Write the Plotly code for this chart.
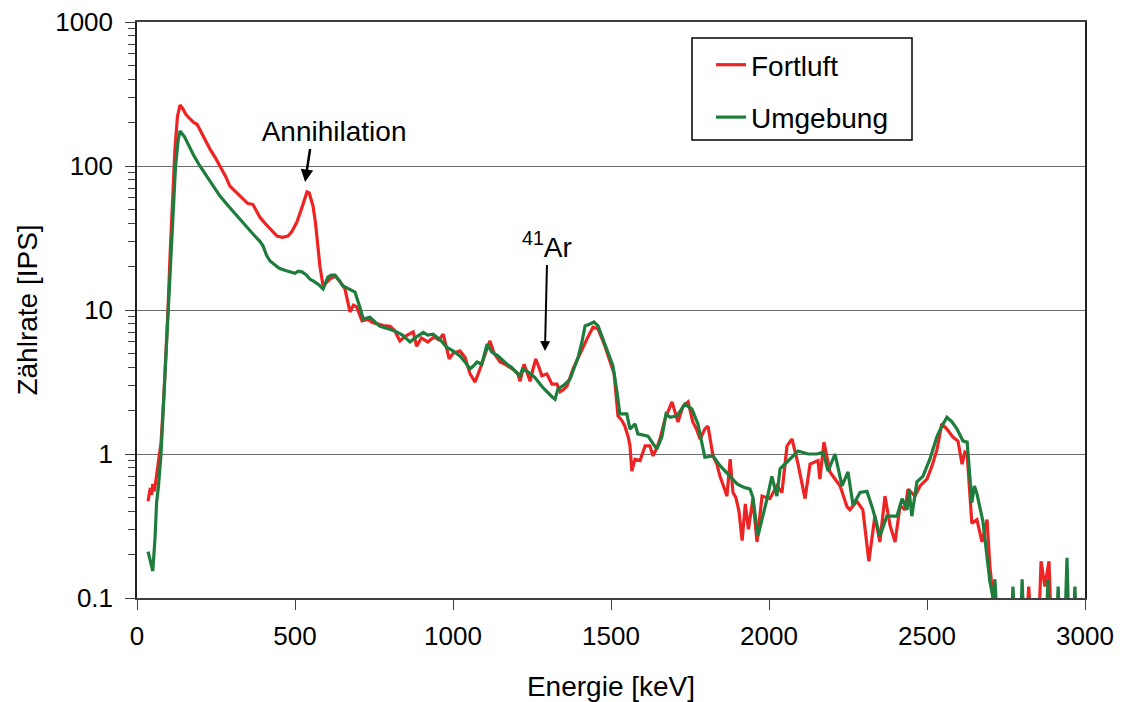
import plotly.graph_objects as go

# ---------------- data ----------------
fort_E = [35, 42, 46, 50, 55, 62, 70, 76, 85, 92, 98, 105, 112, 120, 128, 136, 145, 155, 168, 180,
          190, 210, 231, 250, 263, 280, 294, 315, 335, 350, 367, 380, 389, 405, 421, 435, 443, 460, 478, 490,
          506, 520, 538, 545, 557, 565, 573, 579, 589, 600, 612, 627, 640, 658, 665, 674, 685, 695, 712, 730,
          745, 759, 780, 801, 815, 832, 850, 874, 885, 900, 920, 940, 955, 969, 988, 1000, 1022, 1038, 1054, 1070,
          1080, 1091, 1105, 1117, 1130, 1149, 1165, 1180, 1195, 1205, 1212, 1225, 1235, 1244, 1252, 1262, 1272, 1281, 1297, 1305,
          1313, 1329, 1339, 1350, 1361, 1380, 1395, 1408, 1424, 1443, 1459, 1481, 1497, 1510, 1522, 1535, 1544, 1555, 1560, 1566,
          1576, 1592, 1608, 1623, 1633, 1645, 1655, 1671, 1693, 1712, 1728, 1744, 1759, 1770, 1782, 1797, 1807, 1815, 1823, 1835,
          1845, 1856, 1867, 1877, 1886, 1895, 1905, 1915, 1925, 1935, 1949, 1962, 1978, 2003, 2025, 2041, 2057, 2073, 2092, 2114,
          2130, 2155, 2161, 2174, 2193, 2209, 2225, 2247, 2256, 2278, 2297, 2316, 2335, 2351, 2367, 2383, 2399, 2415, 2430, 2440,
          2462, 2478, 2500, 2516, 2532, 2547, 2563, 2582, 2598, 2611, 2620, 2627, 2635, 2642, 2658, 2674, 2690, 2699, 2709, 2720,
          2812, 2822, 2832, 2852, 2861, 2873, 2886, 2895, 3000]
fort_V = [0.47, 0.58, 0.52, 0.62, 0.55, 0.7, 0.9, 1.2, 2.5, 5, 10, 25, 60, 130, 220, 265, 250, 228, 212, 200,
          195, 160, 131, 112, 100, 85, 72.6, 65, 59, 55, 54, 48, 44, 40, 36.5, 34, 32.6, 32, 32.6, 35,
          40.8, 50, 66, 65, 52.8, 40, 26.5, 20, 14.7, 15.5, 16.5, 17.2, 16, 14, 12, 9.7, 10.8, 10.5, 8.4, 8.6,
          8.2, 8, 7.8, 7.7, 7.2, 6.1, 6.6, 7.05, 5.6, 6.4, 6.0, 6.5, 6.2, 6.8, 4.57, 5.0, 5.2, 4.7, 3.6, 3.16,
          3.6, 4.2, 5.2, 6.1, 5.0, 4.35, 4.2, 4.0, 3.8, 3.6, 3.2, 4.2, 3.6, 3.2, 3.8, 4.57, 4.0, 3.5, 3.6, 3.3,
          3.06, 3.06, 2.7, 2.8, 2.97, 3.9, 4.6, 5.4, 6.3, 7.6, 7.4, 5.6, 4.35, 3.6, 1.84, 1.7, 1.56, 1.3, 1.14, 0.76,
          0.92, 0.90, 1.14, 1.14, 0.97, 1.1, 1.27, 1.75, 2.3, 1.67, 2.15, 2.3, 1.67, 1.5, 1.27, 1.49, 1.56, 1.2, 0.97, 0.85,
          0.70, 0.6, 0.51, 0.92, 0.54, 0.5, 0.4, 0.25, 0.45, 0.3, 0.49, 0.245, 0.51, 0.49, 0.60, 0.54, 1.14, 1.27, 0.85, 0.49,
          0.85, 0.90, 0.67, 1.21, 0.75, 0.67, 0.60, 0.43, 0.41, 0.47, 0.41, 0.18, 0.37, 0.245, 0.51, 0.32, 0.245, 0.44, 0.41, 0.57,
          0.51, 0.60, 0.67, 0.83, 1.08, 1.62, 1.49, 1.31, 1.23, 0.85, 1.03, 1.0, 0.6, 0.33, 0.35, 0.245, 0.35, 0.167, 0.1, 0.05,
          0.05, 0.12, 0.05, 0.05, 0.18, 0.12, 0.18, 0.05, 0.05]

umg_E = [35, 42, 50, 57, 62, 68, 76, 85, 92, 101, 108, 115, 122, 130, 136, 150, 161, 180, 199, 220,
         241, 262, 285, 305, 326, 345, 367, 389, 399, 410, 421, 431, 450, 470, 484, 500, 510, 522, 535, 547,
         560, 575, 589, 597, 604, 615, 627, 640, 652, 670, 690, 705, 716, 737, 755, 769, 795, 822, 840, 864,
         880, 906, 920, 937, 960, 981, 1000, 1022, 1040, 1054, 1065, 1076, 1091, 1108, 1123, 1142, 1171, 1185, 1196, 1212,
         1220, 1234, 1259, 1284, 1313, 1323, 1332, 1350, 1370, 1396, 1408, 1418, 1433, 1446, 1459, 1487, 1506, 1519, 1528, 1550,
         1560, 1576, 1585, 1617, 1645, 1661, 1674, 1687, 1709, 1734, 1756, 1775, 1797, 1823, 1845, 1877, 1899, 1918, 1940, 1949,
         1965, 1994, 2009, 2025, 2035, 2057, 2092, 2124, 2152, 2171, 2187, 2209, 2231, 2250, 2266, 2288, 2310, 2329, 2351, 2373,
         2405, 2421, 2437, 2443, 2452, 2468, 2487, 2509, 2532, 2547, 2563, 2579, 2595, 2614, 2627, 2642, 2650, 2658, 2677, 2699,
         2709, 2715, 2725, 2765, 2772, 2780, 2795, 2801, 2808, 2875, 2883, 2890, 2908, 2915, 2922, 2935, 2943, 2950, 2962, 2968,
         2975, 2990, 3000]
umg_V = [0.21, 0.18, 0.154, 0.26, 0.46, 0.6, 1.0, 2.5, 5, 10, 25, 50, 100, 150, 175, 160, 142, 118, 100, 85,
         72.6, 62, 54, 48, 42.8, 38, 33.7, 30, 27.8, 24, 21.9, 21, 19.5, 18.8, 18.4, 18, 18.6, 18.4, 17.6, 16.4,
         15.8, 15, 14, 15.5, 16.9, 17.5, 17.5, 16, 14.7, 14, 13.3, 10.5, 8.66, 8.9, 8.2, 7.7, 7.4, 7.05, 6.7, 6.0,
         6.4, 7.0, 6.7, 6.8, 6.2, 5.5, 5.2, 4.8, 4.3, 3.9, 4.1, 4.35, 4.2, 5.8, 5.1, 4.8, 4.2, 4.0, 3.77, 3.5,
         3.9, 3.77, 3.4, 2.9, 2.5, 2.4, 2.83, 3.0, 3.3, 4.7, 6.0, 7.75, 8.0, 8.25, 7.75, 5.35, 4.1, 2.7, 1.9, 1.9,
         1.49, 1.62, 1.38, 1.33, 1.08, 1.31, 1.9, 1.8, 1.84, 2.22, 2.05, 1.62, 0.95, 0.97, 0.83, 0.70, 0.62, 0.59, 0.57, 0.5,
         0.27, 0.49, 0.70, 0.51, 0.79, 0.88, 1.05, 1.0, 1.0, 1.03, 0.76, 1.0, 0.6, 0.75, 0.44, 0.54, 0.55, 0.41, 0.27, 0.37,
         0.37, 0.49, 0.41, 0.57, 0.37, 0.64, 0.70, 0.92, 1.33, 1.56, 1.8, 1.67, 1.49, 1.23, 1.21, 0.46, 0.6, 0.53, 0.34, 0.13,
         0.1, 0.135, 0.05, 0.05, 0.12, 0.05, 0.05, 0.135, 0.05, 0.05, 0.135, 0.05, 0.05, 0.12, 0.05, 0.05, 0.19, 0.05, 0.05, 0.12,
         0.05, 0.1, 0.05]

series_names = ["Fortluft", "Umgebung"]
x_ticks = [0, 500, 1000, 1500, 2000, 2500, 3000]
y_ticks = [0.1, 1, 10, 100, 1000]
y_ticklabels = ["0.1", "1", "10", "100", "1000"]

FONT = "Liberation Sans, Arial, sans-serif"
RED = "#EE2424"
GREEN = "#1E7D3C"

# minor tick positions on the log axis (2..9 in each decade)
y_minor = [m * 10 ** d for d in range(-1, 3) for m in range(2, 10)]

fig = go.Figure()
fig.add_trace(go.Scatter(x=fort_E, y=fort_V, mode="lines", name=series_names[0],
                         legendgroup="a", line=dict(color=RED, width=3.2)))
fig.add_trace(go.Scatter(x=umg_E, y=umg_V, mode="lines", name=series_names[1],
                         legendgroup="b", line=dict(color=GREEN, width=3.2)))

# plot-area geometry in pixels
L, R, T, B = 137, 1085, 22, 598
W, H = R - L, B - T
def px(x): return (x - L) / W
def py(y): return (B - y) / H

# legend frame
fig.add_shape(type="rect", xref="paper", yref="paper",
              x0=px(692), x1=px(912), y0=py(140), y1=py(38),
              line=dict(color="black", width=1.5), fillcolor="white", layer="above")

# annotations with arrows (text sits on the arrow tail)
NB = "\u00a0"
fig.add_annotation(x=532, y=1.889, xref="x", yref="y", text=NB * 6 + "Annihilation",
                   showarrow=True, ax=5, ay=-33, xanchor="center", yanchor="bottom",
                   arrowhead=2, arrowsize=1, arrowwidth=2.5, arrowcolor="black", standoff=0,
                   font=dict(size=28, family=FONT, color="black"))
fig.add_annotation(x=1291, y=0.715, xref="x", yref="y", text="<sup>41</sup>Ar",
                   showarrow=True, ax=2, ay=-86, xanchor="center", yanchor="bottom",
                   arrowhead=2, arrowsize=1, arrowwidth=2, arrowcolor="black", standoff=0,
                   font=dict(size=28, family=FONT, color="black"))

fig.update_layout(
    width=1123, height=702,
    margin=dict(l=L, r=1123 - R, t=T, b=702 - B, autoexpand=False),
    paper_bgcolor="white", plot_bgcolor="white",
    font=dict(family=FONT, size=26, color="black"),
    showlegend=True,
    legend=dict(x=px(711), y=py(40), xanchor="left", yanchor="top",
                bgcolor="rgba(0,0,0,0)", borderwidth=0, tracegroupgap=13,
                font=dict(size=28, family=FONT, color="black"), itemwidth=30),
    xaxis=dict(range=[0, 3000], tickvals=x_ticks, ticks="outside", ticklen=10, tickcolor="#404040",
               showline=True, linecolor="#404040", linewidth=1.5, mirror=True, showgrid=False, zeroline=False,
               tickfont=dict(size=26), ticklabelstandoff=4, automargin=False,
               title=dict(text="Energie [keV]", font=dict(size=28), standoff=29)),
    yaxis=dict(type="log", range=[-1, 3], tickvals=y_ticks, ticktext=y_ticklabels,
               ticks="outside", ticklen=10, tickcolor="#404040",
               showline=True, linecolor="#202020", linewidth=1.5, mirror=True,
               showgrid=True, gridcolor="#6e6e6e", gridwidth=1,
               minor=dict(tickvals=y_minor, ticks="outside", ticklen=7, tickcolor="#404040", showgrid=False),
               tickfont=dict(size=26), ticklabelstandoff=7, automargin=False,
               title=dict(text="Zählrate [IPS]", font=dict(size=28), standoff=9)),
)

# the page's default body margin would shift the figure; remove it
fig.write_html("out.html", config={"displayModeBar": False},
               post_script="document.body.style.margin='0';document.body.style.overflow='hidden';")
